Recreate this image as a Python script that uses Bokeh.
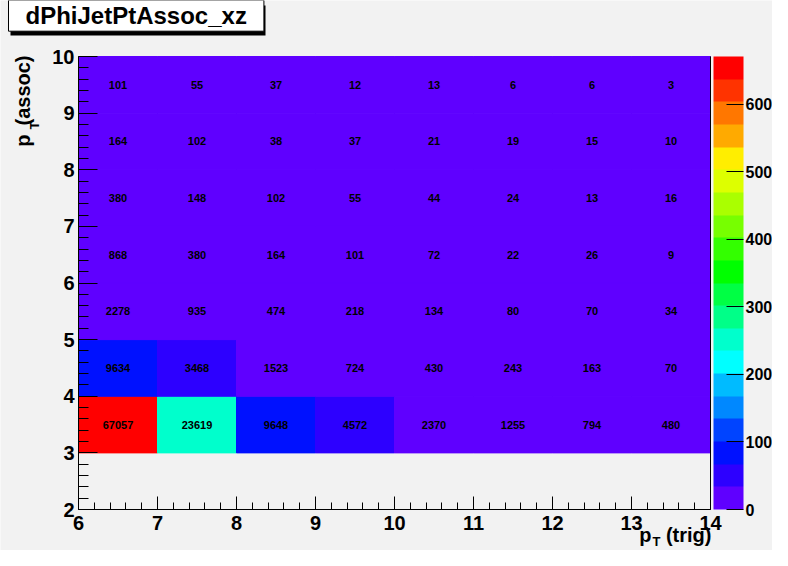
from bokeh.plotting import figure
from bokeh.models import (ColumnDataSource, LinearColorMapper, ColorBar,
                          SingleIntervalTicker, FixedTicker, Label, LinearAxis,
                          Range1d, BoxAnnotation)
from bokeh.core.properties import value
from bokeh.embed import file_html
from bokeh.resources import INLINE

# ---------------- data ----------------
title_text = "dPhiJetPtAssoc_xz"
pt_trig_edges = [6, 7, 8, 9, 10, 11, 12, 13, 14]
pt_assoc_edges = [3, 4, 5, 6, 7, 8, 9, 10]
counts_3_4 = [67057, 23619, 9648, 4572, 2370, 1255, 794, 480]
counts_4_5 = [9634, 3468, 1523, 724, 430, 243, 163, 70]
counts_5_6 = [2278, 935, 474, 218, 134, 80, 70, 34]
counts_6_7 = [868, 380, 164, 101, 72, 22, 26, 9]
counts_7_8 = [380, 148, 102, 55, 44, 24, 13, 16]
counts_8_9 = [164, 102, 38, 37, 21, 19, 15, 10]
counts_9_10 = [101, 55, 37, 12, 13, 6, 6, 3]
z_unit = 100          # colour axis shown in units of 10^2
z_max = 670.57
palette = ["#5f00ff", "#2d00ff", "#0011ff", "#0044ff", "#0088ff",
           "#00bbff", "#00ffff", "#00ffcc", "#00ff88", "#00ff44",
           "#00ff00", "#33ff00", "#77ff00", "#aaff00", "#ddff00",
           "#ffee00", "#ffaa00", "#ff7700", "#ff3300", "#ff0000"]

rows = [counts_3_4, counts_4_5, counts_5_6, counts_6_7,
        counts_7_8, counts_8_9, counts_9_10]

left, right, bottom, top, cnt = [], [], [], [], []
for j, row in enumerate(rows):
    for i, c in enumerate(row):
        left.append(pt_trig_edges[i]); right.append(pt_trig_edges[i + 1])
        bottom.append(pt_assoc_edges[j]); top.append(pt_assoc_edges[j + 1])
        cnt.append(c)

src = ColumnDataSource(dict(
    left=left, right=right, bottom=bottom, top=top,
    xc=[(a + b) / 2 for a, b in zip(left, right)],
    yc=[(a + b) / 2 for a, b in zip(bottom, top)],
    z=[c / z_unit for c in cnt],
    label=[str(c) for c in cnt],
))

# ---------------- layout ----------------
FONT = "Liberation Sans"
BG = "#f2f2f2"
W, H = 772, 550
FL, FR, FT, FB = 78, 710, 56, 509       # plotting box in pixels
X0, X1, Y0, Y1 = 6, 14, 2, 10
KX = (FR - FL) / (X1 - X0)
KY = (FB - FT) / (Y1 - Y0)


def dx(px):  # pixel -> data x
    return X0 + (px - FL) / KX


def dy(py):  # pixel -> data y
    return Y1 - (py - FT) / KY


p = figure(width=W, height=H,
           x_range=Range1d(dx(0), dx(W)), y_range=Range1d(dy(H), dy(0)),
           x_axis_type=None, y_axis_type=None,
           output_backend="svg", toolbar_location=None, min_border=0,
           background_fill_color=BG, border_fill_color=BG,
           outline_line_color=None)
p.grid.visible = False

mapper = LinearColorMapper(palette=palette, low=0, high=z_max)

p.quad(left="left", right="right", bottom="bottom", top="top",
       fill_color={"field": "z", "transform": mapper},
       line_color={"field": "z", "transform": mapper}, line_width=1,
       source=src)
p.text(x="xc", y="yc", text="label", source=src,
       text_align="center", text_baseline="middle",
       text_font=value(FONT), text_font_style="bold",
       text_font_size="11px", text_color="black")


def style_axis(ax, tin, mtin, standoff):
    ax.axis_line_color = "black"
    ax.major_tick_line_color = "black"
    ax.minor_tick_line_color = "black"
    ax.major_tick_out = 0
    ax.minor_tick_out = 0
    ax.major_tick_in = tin
    ax.minor_tick_in = mtin
    ax.major_label_standoff = standoff
    ax.major_label_text_font = FONT
    ax.major_label_text_font_style = "bold"
    ax.major_label_text_font_size = "20px"
    ax.major_label_text_color = "black"


xaxis = LinearAxis(fixed_location=Y0, bounds=(X0, X1),
                   ticker=SingleIntervalTicker(interval=1, num_minor_ticks=5))
style_axis(xaxis, 13, 7, 6)
p.add_layout(xaxis, "below")

yaxis = LinearAxis(fixed_location=X0, bounds=(Y0, Y1),
                   ticker=SingleIntervalTicker(interval=1, num_minor_ticks=5))
style_axis(yaxis, 19, 10, 4)
p.add_layout(yaxis, "left")

frame_right = LinearAxis(fixed_location=X1, bounds=(Y0, Y1),
                         ticker=FixedTicker(ticks=[]), axis_line_color="black")
p.add_layout(frame_right, "right")

cb = ColorBar(color_mapper=mapper, ticker=SingleIntervalTicker(interval=100),
              width=30, height=FB - FT, location=(FR + 3, H - FB),
              padding=0, margin=0,
              major_tick_in=17, major_tick_out=0, major_tick_line_color="black",
              minor_tick_line_color=None, bar_line_color=None,
              label_standoff=2, major_label_text_font=FONT,
              major_label_text_font_style="bold", major_label_text_font_size="16px",
              major_label_text_color="black",
              background_fill_color=None, border_line_color=None)
p.add_layout(cb, "center")

lab = dict(text_font=FONT, text_font_style="bold", text_color="black")
SH = 0.45  # baseline compensation (fraction of font size)

# x-axis title  p_T(trig)
p.add_layout(Label(x=dx(711), y=dy(543 - SH * 20), text="(trig)", text_align="right",
                   text_baseline="alphabetic", text_font_size="20px", **lab))
p.add_layout(Label(x=dx(651), y=dy(543 - SH * 20), text="p", text_align="right",
                   text_baseline="alphabetic", text_font_size="20px", **lab))
p.add_layout(Label(x=dx(652), y=dy(547 - SH * 13), text="T", text_align="left",
                   text_baseline="alphabetic", text_font_size="13px", **lab))

# y-axis title  p_T(assoc)
p.add_layout(Label(x=dx(31 - SH * 20), y=dy(55), text="(assoc)", angle=90,
                   angle_units="deg", text_align="right", text_baseline="alphabetic",
                   text_font_size="20px", **lab))
p.add_layout(Label(x=dx(40 - SH * 13), y=dy(121), text="T", angle=90,
                   angle_units="deg", text_align="right", text_baseline="alphabetic",
                   text_font_size="13px", **lab))
p.add_layout(Label(x=dx(31 - SH * 20), y=dy(134), text="p", angle=90,
                   angle_units="deg", text_align="right", text_baseline="alphabetic",
                   text_font_size="20px", **lab))

# title box with shadow
p.add_layout(BoxAnnotation(left=dx(10), right=dx(265), top=dy(5), bottom=dy(35),
                           fill_color="black", fill_alpha=1, line_color=None))
p.add_layout(Label(x=dx(8), y=dy(26 - SH * 24), text=title_text, text_align="left",
                   text_baseline="alphabetic", text_font_size="24px",
                   background_fill_color="white", border_line_color="black",
                   border_line_width=1, padding=(17, 2), **lab))

open("out.html", "w").write(file_html(p, INLINE))
